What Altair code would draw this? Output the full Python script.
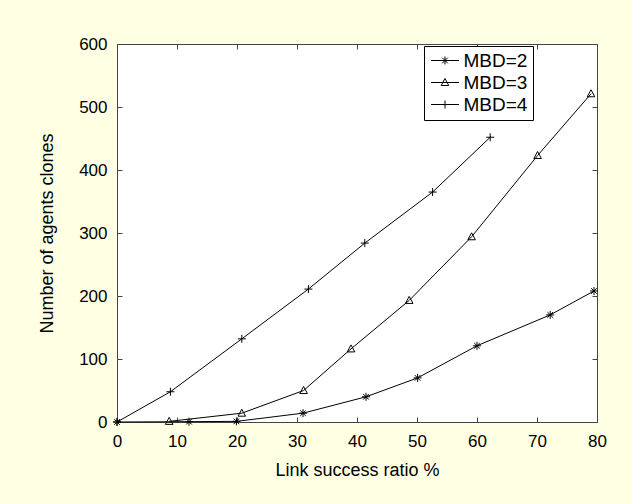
import altair as alt
import pandas as pd

# ---- data ----
series_names = ["MBD=2", "MBD=3", "MBD=4"]

x_mbd2 = [0, 12, 19.9, 31.0, 41.5, 50.1, 60.0, 72.2, 79.5]
y_mbd2 = [0, 0.5, 1, 14, 40, 70, 121, 170, 208]

x_mbd3 = [8.7, 20.8, 31.1, 39.0, 48.7, 59.1, 70.1, 79.0]
y_mbd3 = [1, 14, 50, 116, 193, 294, 423, 521]

x_mbd4 = [0, 8.9, 20.8, 31.9, 41.3, 52.6, 62.2]
y_mbd4 = [0, 48, 132, 211, 284, 365, 452]

x_ticks = [0, 10, 20, 30, 40, 50, 60, 70, 80]
y_ticks = [0, 100, 200, 300, 400, 500, 600]

rows = []
for name, xs, ys in [("MBD=2", x_mbd2, y_mbd2), ("MBD=3", x_mbd3, y_mbd3), ("MBD=4", x_mbd4, y_mbd4)]:
    for i, (xv, yv) in enumerate(zip(xs, ys)):
        rows.append({"series": name, "x": xv, "y": yv, "order": i})
df = pd.DataFrame(rows)

FONT = "Liberation Sans"
W, H = 480, 378

# marker shapes (MATLAB-like: *, ^, +)
marker_paths = [
    "M-1,0H1M0,-1V1M-0.7,-0.7L0.7,0.7M-0.7,0.7L0.7,-0.7",
    "M0,-1L0.95,0.75L-0.95,0.75Z",
    "M-1,0H1M0,-1V1",
]
# legend glyphs: line sample with marker on it
legend_paths = [
    "M-2,0H2M0,-0.57V0.57M-0.4,-0.4L0.4,0.4M-0.4,0.4L0.4,-0.4",
    "M-2,0H2M0,-0.57L0.54,0.43L-0.54,0.43Z",
    "M-2,0H2M0,-0.57V0.57",
]

x_enc = alt.X(
    "x:Q",
    scale=alt.Scale(domain=[0, 80], nice=False, zero=False),
    axis=alt.Axis(
        values=x_ticks, title="Link success ratio %", tickSize=0, labelPadding=11,
        grid=True, gridDash=[5, H - 10, 5, 2000], gridColor="#444", gridOpacity=1, gridWidth=1,
        domain=False, labelFontSize=17, titleFontSize=18, labelFont=FONT, titleFont=FONT,
        titleFontWeight="normal", labelColor="black", titleColor="black", titlePadding=12,
        labelFlush=False,
    ),
)
y_enc = alt.Y(
    "y:Q",
    scale=alt.Scale(domain=[0, 600], nice=False, zero=False),
    axis=alt.Axis(
        values=y_ticks, title="Number of agents clones", tickSize=0, labelPadding=10,
        grid=True, gridDash=[5, W - 10, 5, 2000], gridColor="#444", gridOpacity=1, gridWidth=1,
        domain=False, labelFontSize=17, titleFontSize=18, labelFont=FONT, titleFont=FONT,
        titleFontWeight="normal", labelColor="black", titleColor="black", titlePadding=22,
        labelFlush=False,
    ),
)

base = alt.Chart(df)

lines = base.mark_line(color="black", strokeWidth=1).encode(
    x=x_enc, y=y_enc, detail="series:N", order="order:Q"
)

points = base.mark_point(color="black", filled=False, strokeWidth=1, size=64, opacity=1).encode(
    x="x:Q",
    y="y:Q",
    shape=alt.Shape("series:N", scale=alt.Scale(domain=series_names, range=marker_paths), legend=None),
)

legend_layer = base.transform_filter("false").mark_point(
    color="black", filled=False, strokeWidth=1, opacity=1
).encode(
    x="x:Q",
    y="y:Q",
    shape=alt.Shape(
        "series:N",
        scale=alt.Scale(domain=series_names, range=legend_paths),
        legend=alt.Legend(
            title=None, orient="none", legendX=307, legendY=2,
            strokeColor="black", fillColor="white", padding=5, cornerRadius=0,
            labelFont=FONT, labelFontSize=19, labelColor="black",
            symbolSize=196, symbolStrokeWidth=1, symbolStrokeColor="black",
            symbolFillColor="transparent", symbolOffset=6.5, labelOffset=9,
            rowPadding=2,
        ),
    ),
)

chart = (
    alt.layer(lines, points, legend_layer)
    .resolve_scale(shape="independent")
    .properties(
        width=W, height=H,
        autosize=alt.AutoSizeParams(type="none"),
        padding={"left": 117, "top": 44, "right": 35, "bottom": 82},
        background="#FFFFE3",
    )
    .configure_view(stroke="#444", strokeWidth=1, fill="white")
)

chart.save("out.html", embed_options={"renderer": "svg", "actions": False})
